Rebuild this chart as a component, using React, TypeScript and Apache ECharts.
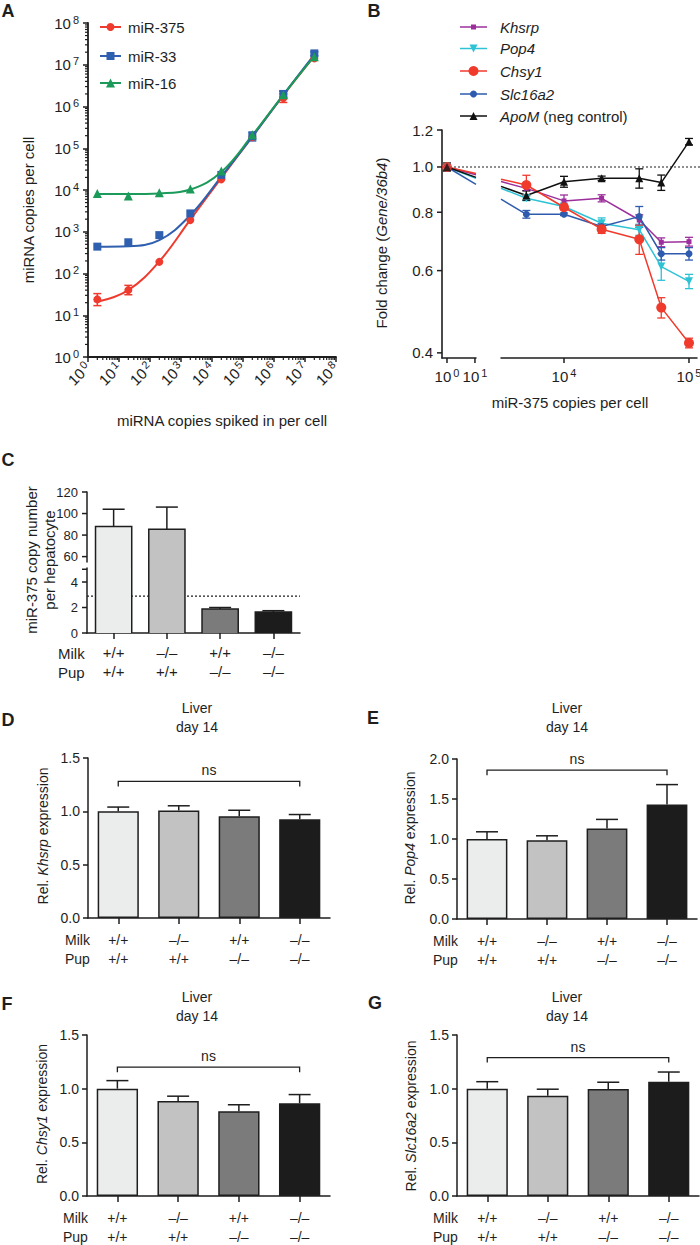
import React, { useEffect, useRef } from 'react';
import * as echarts from 'echarts';

const FONT = '"Liberation Sans", Arial, Helvetica, sans-serif';
const INK = '#1e1e1e';

// ---------------- Panel A ----------------
const A_SPIKED = [2, 20, 200, 2000, 20000, 200000, 2000000, 20000000];
const A_MIR375 = [24, 40, 190, 1900, 18000, 185000, 1600000, 14200000];
const A_MIR33 = [440, 560, 830, 2750, 23000, 195000, 2000000, 18700000];
const A_MIR16 = [8300, 7200, 8600, 10500, 28500, 210000, 1900000, 15500000];
const A_FIT375 = [21, 40, 195, 1950, 19500, 190000, 1850000, 16000000];
const A_FIT33 = [440, 450, 630, 2500, 21000, 190000, 1900000, 17500000];
const A_FIT16 = [8000, 8000, 8300, 10300, 27000, 205000, 1900000, 16000000];
const A_ERR375 = [[2, 17, 33], [20, 31, 52], [2000000, 1250000, 2000000]];
const A_ERR33 = [[200000, 150000, 245000], [2000000, 1650000, 2350000], [20000000, 16500000, 20500000]];
const A_ERR16 = [[2000000, 1550000, 2300000]];
const A_NAMES = ['miR-375', 'miR-33', 'miR-16'];

// ---------------- Panel B ----------------
const B_COPIES = [1, 5000, 10000, 20000, 40000, 60000, 100000];
const B_KHSRP = [1.0, 0.9, 0.846, 0.857, 0.77, 0.69, 0.692];
const B_KHSRP_ERR = [0.015, 0.01, 0.025, 0.015, 0.02, 0.015, 0.015];
const B_POP4 = [1.0, 0.857, 0.823, 0.758, 0.734, 0.612, 0.569];
const B_POP4_ERR = [0.015, 0.01, 0.01, 0.02, 0.02, 0.04, 0.02];
const B_CHSY1 = [1.0, 0.915, 0.82, 0.736, 0.7, 0.5, 0.42];
const B_CHSY1_ERR = [0.015, 0.045, 0.01, 0.015, 0.05, 0.025, 0.01];
const B_SLC16A2 = [1.0, 0.792, 0.792, 0.746, 0.783, 0.652, 0.652];
const B_SLC16A2_ERR = [0.015, 0.015, 0.005, 0.01, 0.04, 0.02, 0.02];
const B_APOM = [1.0, 0.869, 0.93, 0.946, 0.946, 0.926, 1.133];
const B_APOM_ERR = [0.02, 0.02, 0.025, 0.01, 0.045, 0.035, 0.018];
const B_Y_TICKS = [0.4, 0.6, 0.8, 1.0, 1.2];
const B_Y_TICK_LABELS = ['0.4', '0.6', '0.8', '1.0', '1.2'];
const B_X_TICKS_LEFT = [1, 10];
const B_X_TICKS_RIGHT = [10000, 100000];

// ---------------- Panel C ----------------
const GENO_MILK = ['+/+', '–/–', '+/+', '–/–'];
const GENO_PUP = ['+/+', '+/+', '–/–', '–/–'];
const C_COPIES = [88, 85.5, 1.88, 1.65];
const C_SD = [16, 20.5, 0.12, 0.1];
const C_DETECTION = 2.9;
const C_TICKS_UPPER = [60, 80, 100, 120];
const C_TICKS_LOWER = [0, 2, 4, 5];
const C_TICK_LABELS_LOWER = ['0', '2', '4', ''];

// ---------------- Panels D-G ----------------
const D_KHSRP = [1.0, 1.007, 0.955, 0.925];
const D_KHSRP_SD = [0.04, 0.045, 0.055, 0.045];
const E_POP4 = [1.0, 0.985, 1.13, 1.43];
const E_POP4_SD = [0.09, 0.055, 0.115, 0.25];
const F_CHSY1 = [1.0, 0.885, 0.79, 0.865];
const F_CHSY1_SD = [0.075, 0.045, 0.06, 0.08];
const G_SLC16A2 = [1.0, 0.935, 0.997, 1.065];
const G_SLC16A2_SD = [0.065, 0.06, 0.063, 0.09];
const NS_LEVEL = { D: 1.28, E: 1.86, F: 1.2, G: 1.29 };
const BAR_COLORS = ['#EBECEC', '#C2C2C2', '#7B7B7B', '#1C1C1C'];

// ---------------- layout ----------------
const GRID_BOXES = [
  { left: 88, top: 23, width: 248, height: 334 }, // A
  { left: 442, top: 130, width: 34, height: 228 }, // B left
  { left: 501, top: 130, width: 196, height: 228 }, // B right
  { left: 87, top: 492, width: 213, height: 70 }, // C upper
  { left: 87, top: 568, width: 213, height: 65 }, // C lower
  { left: 88, top: 758, width: 242, height: 160 }, // D
  { left: 457, top: 759, width: 240, height: 160 }, // E
  { left: 87, top: 1035, width: 243, height: 161 }, // F
  { left: 457, top: 1035, width: 242, height: 161 }, // G
];
const B_LEFT_RANGE = [0.663, 10.9];
const B_RIGHT_RANGE = [3133, 115900];
const B_Y_RANGE = [0.39, 1.2];
const C_UPPER_RANGE = [55, 120];
const C_LOWER_RANGE = [0, 5.1];

const CATS = GENO_MILK.map((m, i) => m + '\n' + GENO_PUP[i]);

const A_SETS = [
  { name: A_NAMES[0], color: '#EE3B2E', pts: A_MIR375, fit: A_FIT375, err: A_ERR375, symbol: 'circle', size: 8 },
  { name: A_NAMES[1], color: '#2F5FAF', pts: A_MIR33, fit: A_FIT33, err: A_ERR33, symbol: 'rect', size: 8 },
  { name: A_NAMES[2], color: '#1B9A5A', pts: A_MIR16, fit: A_FIT16, err: A_ERR16, symbol: 'triangle', size: 9 },
];

const B_SETS: any = {
  Khsrp: { vals: B_KHSRP, err: B_KHSRP_ERR, color: '#9C2F9C', symbol: 'rect', size: 5, rotate: 0 },
  Pop4: { vals: B_POP4, err: B_POP4_ERR, color: '#2DC3D5', symbol: 'triangle', size: 8, rotate: 180 },
  Chsy1: { vals: B_CHSY1, err: B_CHSY1_ERR, color: '#F03A2C', symbol: 'circle', size: 10, rotate: 0 },
  Slc16a2: { vals: B_SLC16A2, err: B_SLC16A2_ERR, color: '#2E5BAD', symbol: 'circle', size: 7, rotate: 0 },
  ApoM: { vals: B_APOM, err: B_APOM_ERR, color: '#111111', symbol: 'triangle', size: 8, rotate: 0 },
};
const B_DRAW_ORDER = ['Pop4', 'Khsrp', 'Slc16a2', 'Chsy1', 'ApoM'];
const B_LEGEND_ORDER = ['Khsrp', 'Pop4', 'Chsy1', 'Slc16a2', 'ApoM'];

// ---------------- helpers ----------------
function powRich(big: number, small: number) {
  return {
    b: { fontSize: big, fontFamily: FONT, color: INK, fill: INK, lineHeight: big + 3, verticalAlign: 'middle' },
    s: { fontSize: small, fontFamily: FONT, color: INK, fill: INK, lineHeight: small + 3, verticalAlign: 'top', padding: [0, 0, 0, 2] },
  };
}
const pow = (k: number) => `{b|10}{s|${k}}`;
const richIt = (size: number) => ({
  n: { fontSize: size, fontFamily: FONT, fill: INK, color: INK },
  i: { fontSize: size, fontFamily: FONT, fill: INK, color: INK, fontStyle: 'italic' },
});

function T(x: number, y: number, text: string, size: number, o: any = {}) {
  const align = o.align || 'center';
  const va = o.va || 'middle';
  const style: any = {
    text, x: 0, y: 0, fontSize: size, fontFamily: FONT, fontWeight: o.weight || 'normal',
    fontStyle: o.italic ? 'italic' : 'normal', fill: INK, align, verticalAlign: va, textAlign: align, textVerticalAlign: va,
  };
  if (o.lineHeight) style.lineHeight = o.lineHeight;
  if (o.rich) style.rich = o.rich;
  return { type: 'text', x, y, rotation: o.rot || 0, silent: true, z: 10, style };
}

function marker(symbol: string, cx: number, cy: number, size: number, color: string, rotate = 0): any {
  const h = size / 2;
  if (symbol === 'circle') return { type: 'circle', shape: { cx, cy, r: h }, style: { fill: color }, z: 11, silent: true };
  if (symbol === 'rect') return { type: 'rect', shape: { x: cx - h, y: cy - h, width: size, height: size }, style: { fill: color }, z: 11, silent: true };
  const pts = rotate === 180
    ? [[cx, cy + h], [cx + h, cy - h], [cx - h, cy - h]]
    : [[cx, cy - h], [cx + h, cy + h], [cx - h, cy + h]];
  return { type: 'polygon', shape: { points: pts }, style: { fill: color }, z: 11, silent: true };
}

function errSeries(xi: number, yi: number, data: number[][], color: string, cap: number, both: boolean, lw = 1.5, z = 3) {
  return {
    type: 'custom', xAxisIndex: xi, yAxisIndex: yi, silent: true, clip: false, z, data,
    renderItem: (_p: any, api: any) => {
      const x = api.value(0);
      const a = api.coord([x, api.value(1)]);
      const b = api.coord([x, api.value(2)]);
      const st = { stroke: color, lineWidth: lw };
      const ch: any[] = [
        { type: 'line', shape: { x1: a[0], y1: a[1], x2: b[0], y2: b[1] }, style: st },
        { type: 'line', shape: { x1: b[0] - cap, y1: b[1], x2: b[0] + cap, y2: b[1] }, style: st },
      ];
      if (both) ch.push({ type: 'line', shape: { x1: a[0] - cap, y1: a[1], x2: a[0] + cap, y2: a[1] }, style: st });
      return { type: 'group', children: ch };
    },
  };
}

function tickSeries(xi: number, yi: number, dir: string, ticks: number[], labels: string[], anchor: number, cfg: any = {}) {
  const len = cfg.len ?? 5, gap = cfg.gap ?? 4, size = cfg.size ?? 15, lw = cfg.lw ?? 1.5;
  return {
    type: 'custom', xAxisIndex: xi, yAxisIndex: yi, silent: true, clip: false, z: 5,
    data: ticks.map((t) => (dir === 'y' ? [anchor, t] : [t, anchor])),
    renderItem: (params: any, api: any) => {
      const cs = params.coordSys;
      const p = api.coord([api.value(0), api.value(1)]);
      const label = labels[params.dataIndex];
      const ch: any[] = [];
      if (dir === 'y') {
        const x0 = cs.x;
        ch.push({ type: 'line', shape: { x1: x0, y1: p[1], x2: x0 - len, y2: p[1] }, style: { stroke: INK, lineWidth: lw } });
        if (label) {
          const st: any = { text: label, x: x0 - len - gap, y: p[1], fontSize: size, fontFamily: FONT, fill: INK, align: 'right', verticalAlign: 'middle', textAlign: 'right', textVerticalAlign: 'middle' };
          if (cfg.rich) st.rich = cfg.rich;
          ch.push({ type: 'text', style: st });
        }
      } else {
        const y0 = cs.y + cs.height;
        ch.push({ type: 'line', shape: { x1: p[0], y1: y0, x2: p[0], y2: y0 + len }, style: { stroke: INK, lineWidth: lw } });
        if (label) {
          const st: any = { text: label, x: p[0], y: y0 + len + gap, fontSize: size, fontFamily: FONT, fill: INK, align: 'center', verticalAlign: 'top', textAlign: 'center', textVerticalAlign: 'top' };
          if (cfg.rich) st.rich = cfg.rich;
          ch.push({ type: 'text', style: st });
        }
      }
      return { type: 'group', children: ch };
    },
  };
}

function brokenBars(gi: number, values: number[], segMin: number, segMax: number, extendBottom: number) {
  return {
    type: 'custom', xAxisIndex: gi, yAxisIndex: gi, silent: true, clip: false, z: 2,
    data: values.map((v, i) => [i, v]),
    renderItem: (params: any, api: any) => {
      const i = api.value(0), v = api.value(1);
      if (v <= segMin) return null;
      const top = Math.min(v, segMax);
      const pt = api.coord([i, top]);
      const pb = api.coord([i, segMin]);
      const bw = api.size([1, 0])[0] * 0.68;
      const x0 = pt[0] - bw / 2, x1 = pt[0] + bw / 2;
      const yb = pb[1] + extendBottom, yt = pt[1];
      const st = { stroke: INK, lineWidth: 1.5, fill: 'none' };
      const ch: any[] = [{ type: 'rect', shape: { x: x0, y: yt, width: bw, height: yb - yt }, style: { fill: BAR_COLORS[params.dataIndex] } }];
      if (v <= segMax) {
        ch.push({ type: 'polyline', shape: { points: [[x0, yb], [x0, yt], [x1, yt], [x1, yb]] }, style: st });
      } else {
        ch.push({ type: 'line', shape: { x1: x0, y1: yt, x2: x0, y2: yb }, style: st });
        ch.push({ type: 'line', shape: { x1: x1, y1: yt, x2: x1, y2: yb }, style: st });
      }
      return { type: 'group', children: ch };
    },
  };
}

function hlineSeries(xi: number, yi: number, value: number, anchorX: number, toX: number | null, dash: number[]) {
  return {
    type: 'custom', xAxisIndex: xi, yAxisIndex: yi, silent: true, clip: false, z: 1,
    data: [[anchorX, value]],
    renderItem: (params: any, api: any) => {
      const cs = params.coordSys;
      const p = api.coord([api.value(0), api.value(1)]);
      return { type: 'line', shape: { x1: cs.x, y1: p[1], x2: toX ?? cs.x + cs.width, y2: p[1] }, style: { stroke: INK, lineWidth: 1.2, lineDash: dash } };
    },
  };
}

function bracketSeries(gi: number, from: number, to: number, level: number, label: string) {
  return {
    type: 'custom', xAxisIndex: gi, yAxisIndex: gi, silent: true, clip: false, z: 4,
    data: [[from, level, to]],
    renderItem: (_p: any, api: any) => {
      const a = api.coord([api.value(0), api.value(1)]);
      const b = api.coord([api.value(2), api.value(1)]);
      return {
        type: 'group',
        children: [
          { type: 'polyline', shape: { points: [[a[0], a[1] + 5], [a[0], a[1]], [b[0], b[1]], [b[0], b[1] + 5]] }, style: { stroke: INK, lineWidth: 1.3, fill: 'none' } },
          { type: 'text', style: { text: label, x: (a[0] + b[0]) / 2, y: a[1] - 11, fontSize: 14, fontFamily: FONT, fill: INK, align: 'center', verticalAlign: 'middle', textAlign: 'center', textVerticalAlign: 'middle' } },
        ],
      };
    },
  };
}

function buildOption(extra: any[]) {
  const grid = GRID_BOXES.map((b) => ({ ...b, containLabel: false, outerBoundsMode: 'none', show: false }));
  const line = (w = 1.5) => ({ show: true, onZero: false, lineStyle: { color: INK, width: w } });
  const tick = (len = 5, w = 1.5) => ({ show: true, inside: false, length: len, alignWithLabel: true, lineStyle: { color: INK, width: w } });
  const off = { show: false };
  const powLabel = (v: number) => pow(Math.round(Math.log10(v)));
  const richA = powRich(15, 11);
  const catAxis = (gi: number, margin: number, size: number) => ({
    gridIndex: gi, type: 'category', data: CATS, boundaryGap: true,
    axisLine: line(1.5), axisTick: tick(6, 1.5),
    axisLabel: { show: true, interval: 0, color: INK, fontSize: size, fontFamily: FONT, lineHeight: 19, margin },
    splitLine: off,
  });
  const valAxis = (gi: number, max: number) => ({
    gridIndex: gi, type: 'value', min: 0, max, interval: 0.5,
    axisLine: line(1.5), axisTick: tick(5, 1.5),
    axisLabel: { color: INK, fontSize: 14, fontFamily: FONT, margin: 8, formatter: (v: number) => v.toFixed(1) },
    splitLine: off,
  });

  const xAxis: any[] = [
    { gridIndex: 0, type: 'log', logBase: 10, min: 1, max: 1e8, splitNumber: 8, axisLine: line(1.8), axisTick: tick(5, 1.5), axisLabel: { rotate: 45, margin: 8, formatter: powLabel, rich: richA }, splitLine: off, minorTick: off },
    { gridIndex: 1, type: 'log', logBase: 10, min: B_LEFT_RANGE[0], max: B_LEFT_RANGE[1], axisLine: line(1.5), axisTick: off, axisLabel: off, splitLine: off },
    { gridIndex: 2, type: 'log', logBase: 10, min: B_RIGHT_RANGE[0], max: B_RIGHT_RANGE[1], axisLine: line(1.5), axisTick: off, axisLabel: off, splitLine: off },
    { gridIndex: 3, type: 'category', data: CATS, show: false },
    catAxis(4, 10, 15),
    catAxis(5, 12, 14),
    catAxis(6, 12, 14),
    catAxis(7, 12, 14),
    catAxis(8, 12, 14),
  ];
  const yAxis: any[] = [
    { gridIndex: 0, type: 'log', logBase: 10, min: 1, max: 1e8, splitNumber: 8, axisLine: line(1.8), axisTick: tick(5, 1.5), axisLabel: { margin: 9, formatter: powLabel, rich: richA }, splitLine: off, minorTick: off },
    { gridIndex: 1, type: 'log', logBase: 10, min: B_Y_RANGE[0], max: B_Y_RANGE[1], axisLine: line(1.6), axisTick: off, axisLabel: off, splitLine: off },
    { gridIndex: 2, type: 'log', logBase: 10, min: B_Y_RANGE[0], max: B_Y_RANGE[1], show: false, splitLine: off },
    { gridIndex: 3, type: 'value', min: C_UPPER_RANGE[0], max: C_UPPER_RANGE[1], axisLine: line(1.5), axisTick: off, axisLabel: off, splitLine: off },
    { gridIndex: 4, type: 'value', min: C_LOWER_RANGE[0], max: C_LOWER_RANGE[1], axisLine: line(1.5), axisTick: off, axisLabel: off, splitLine: off },
    valAxis(5, 1.5),
    valAxis(6, 2.0),
    valAxis(7, 1.5),
    valAxis(8, 1.5),
  ];

  const series: any[] = [];
  // ---- A ----
  const A_MINOR: number[] = [];
  for (let k = 0; k < 8; k++) for (let m = 2; m <= 9; m++) A_MINOR.push(m * Math.pow(10, k));
  series.push(tickSeries(0, 0, 'x', A_MINOR, [], 1, { len: 3, lw: 1.2 }));
  series.push(tickSeries(0, 0, 'y', A_MINOR, [], 1, { len: 3, lw: 1.2 }));
  A_SETS.forEach((s) => {
    series.push({ type: 'line', xAxisIndex: 0, yAxisIndex: 0, data: A_SPIKED.map((x, i) => [x, s.fit[i]]), smooth: 0.4, showSymbol: false, symbol: 'none', lineStyle: { color: s.color, width: 2 }, z: 2, silent: true });
  });
  A_SETS.forEach((s) => {
    series.push(errSeries(0, 0, s.err, s.color, 4, true, 1.5, 3));
    series.push({ type: 'scatter', xAxisIndex: 0, yAxisIndex: 0, data: A_SPIKED.map((x, i) => [x, s.pts[i]]), symbol: s.symbol, symbolSize: s.size, itemStyle: { color: s.color, opacity: 1 }, z: 4, silent: true });
  });

  // ---- B ----
  const richB = powRich(15, 11);
  series.push(hlineSeries(1, 1, 1.0, 1, 700, [2, 2]));
  series.push(tickSeries(1, 1, 'y', B_Y_TICKS, B_Y_TICK_LABELS, 1, { len: 5, gap: 4, size: 15 }));
  series.push(tickSeries(1, 1, 'x', B_X_TICKS_LEFT, B_X_TICKS_LEFT.map((v) => pow(Math.round(Math.log10(v)))), 1, { len: 5, gap: 4, rich: richB }));
  series.push(tickSeries(2, 2, 'x', B_X_TICKS_RIGHT, B_X_TICKS_RIGHT.map((v) => pow(Math.round(Math.log10(v)))), 1, { len: 5, gap: 4, rich: richB }));
  B_DRAW_ORDER.forEach((name) => {
    const s = B_SETS[name];
    series.push(errSeries(1, 1, [[B_COPIES[0], s.vals[0] - s.err[0], s.vals[0] + s.err[0]]], s.color, 4, true, 1.3, 3));
    series.push(errSeries(2, 2, B_COPIES.slice(1).map((x, i) => [x, s.vals[i + 1] - s.err[i + 1], s.vals[i + 1] + s.err[i + 1]]), s.color, 4, true, 1.3, 3));
    series.push({ type: 'scatter', xAxisIndex: 1, yAxisIndex: 1, data: [[B_COPIES[0], s.vals[0]]], symbol: s.symbol, symbolSize: s.size, symbolRotate: s.rotate, itemStyle: { color: s.color }, z: 4, silent: true });
    series.push({ type: 'line', xAxisIndex: 2, yAxisIndex: 2, data: B_COPIES.slice(1).map((x, i) => [x, s.vals[i + 1]]), symbol: s.symbol, symbolSize: s.size, symbolRotate: s.rotate, showSymbol: true, lineStyle: { color: s.color, width: 1.5 }, itemStyle: { color: s.color }, z: 4, silent: true });
  });

  // ---- C ----
  series.push(brokenBars(3, C_COPIES, C_UPPER_RANGE[0], C_UPPER_RANGE[1], 6));
  series.push(brokenBars(4, C_COPIES, C_LOWER_RANGE[0], C_LOWER_RANGE[1], 0));
  const cErr = C_COPIES.map((v, i) => [i, v, v + C_SD[i]]);
  series.push(errSeries(3, 3, cErr.filter((d) => d[1] > C_LOWER_RANGE[1]), INK, 11, false, 1.5, 3));
  series.push(errSeries(4, 4, cErr.filter((d) => d[1] <= C_LOWER_RANGE[1]), INK, 11, false, 1.5, 3));
  series.push(hlineSeries(4, 4, C_DETECTION, 0, null, [2, 2]));
  series.push(tickSeries(3, 3, 'y', C_TICKS_UPPER, C_TICKS_UPPER.map(String), 0, { len: 5, gap: 4, size: 13 }));
  series.push(tickSeries(4, 4, 'y', C_TICKS_LOWER, C_TICK_LABELS_LOWER, 0, { len: 5, gap: 4, size: 13 }));

  // ---- D-G ----
  const panels = [
    { gi: 5, vals: D_KHSRP, sd: D_KHSRP_SD, ns: NS_LEVEL.D },
    { gi: 6, vals: E_POP4, sd: E_POP4_SD, ns: NS_LEVEL.E },
    { gi: 7, vals: F_CHSY1, sd: F_CHSY1_SD, ns: NS_LEVEL.F },
    { gi: 8, vals: G_SLC16A2, sd: G_SLC16A2_SD, ns: NS_LEVEL.G },
  ];
  panels.forEach((p) => {
    series.push({
      type: 'bar', xAxisIndex: p.gi, yAxisIndex: p.gi, barWidth: '68%', silent: true, z: 2,
      data: p.vals.map((v, i) => ({ value: v, itemStyle: { color: BAR_COLORS[i] } })),
      itemStyle: { borderColor: INK, borderWidth: 1.5 },
    });
    series.push(errSeries(p.gi, p.gi, p.vals.map((v, i) => [i, v, v + p.sd[i]]), INK, 11, false, 1.5, 3));
    series.push(bracketSeries(p.gi, 0, 3, p.ns, 'ns'));
  });

  // ---- graphics ----
  const g: any[] = [];
  const letters: any[] = [['A', 8, 11], ['B', 374, 11], ['C', 8, 460], ['D', 8, 720], ['E', 373, 718], ['F', 7, 1004], ['G', 375, 1003]];
  letters.forEach(([t, x, y]) => g.push(T(x, y, t, 18, { weight: 'bold' })));

  // A legend
  const aLegY = [27, 56, 83];
  A_SETS.forEach((s, k) => {
    const y = aLegY[k];
    g.push({ type: 'line', shape: { x1: 100, y1: y, x2: 121, y2: y }, style: { stroke: s.color, lineWidth: 2 }, z: 10, silent: true });
    g.push(marker(s.symbol, 110.5, y, s.size, s.color));
    g.push(T(128, y, s.name, 15, { align: 'left' }));
  });
  // A axis titles
  g.push(T(28, 210, 'miRNA copies per cell', 15, { rot: Math.PI / 2 }));
  g.push(T(222, 420, 'miRNA copies spiked in per cell', 15));

  // B legend
  const bLegY = [27, 48.5, 71, 94, 116];
  B_LEGEND_ORDER.forEach((name, k) => {
    const s = B_SETS[name];
    const y = bLegY[k];
    g.push({ type: 'line', shape: { x1: 460, y1: y, x2: 487, y2: y }, style: { stroke: s.color, lineWidth: 1.5 }, z: 10, silent: true });
    g.push(marker(s.symbol, 473.5, y, s.size, s.color, s.rotate));
    if (name === 'ApoM') g.push(T(500, y, '{i|ApoM}{n| (neg control)}', 15, { align: 'left', rich: richIt(15) }));
    else g.push(T(500, y, name, 15, { align: 'left', italic: true }));
  });
  g.push(T(381, 243, '{n|Fold change (}{i|Gene/36b4}{n|)}', 15, { rot: Math.PI / 2, rich: richIt(15) }));
  g.push(T(570, 402, 'miR-375 copies per cell', 15));

  // C
  g.push(T(40, 560, 'miR-375 copy number\nper hepatocyte', 15, { rot: Math.PI / 2, lineHeight: 18 }));
  g.push(T(58, 653, 'Milk', 15, { align: 'left' }));
  g.push(T(58, 672, 'Pup', 15, { align: 'left' }));

  // D-G titles and row headers
  const dg: any[] = [
    ['Khsrp', 43, 836, 197, 708, 65, 940],
    ['Pop4', 410, 838, 567, 708, 433, 941],
    ['Chsy1', 42, 1114, 197, 997, 63, 1218],
    ['Slc16a2', 411, 1116, 567, 997, 433, 1218],
  ];
  dg.forEach(([gene, tx, ty, hx, hy, mx, my]) => {
    g.push(T(tx, ty, `{n|Rel. }{i|${gene}}{n| expression}`, 14, { rot: Math.PI / 2, rich: richIt(14) }));
    g.push(T(hx, hy, 'Liver', 14));
    g.push(T(hx, hy + 19, 'day 14', 14));
    g.push(T(mx, my, 'Milk', 14, { align: 'left' }));
    g.push(T(mx, my + 19, 'Pup', 14, { align: 'left' }));
  });

  return {
    animation: false,
    backgroundColor: '#ffffff',
    textStyle: { fontFamily: FONT, color: INK },
    grid,
    xAxis,
    yAxis,
    series,
    graphic: { elements: [...g, ...extra] },
  };
}

function bridges(chart: any) {
  const out: any[] = [];
  const xl = chart.convertToPixel({ xAxisIndex: 1 }, B_LEFT_RANGE[1]);
  const xr = chart.convertToPixel({ xAxisIndex: 2 }, B_RIGHT_RANGE[0]);
  B_DRAW_ORDER.forEach((name) => {
    const s = B_SETS[name];
    const p1 = chart.convertToPixel({ xAxisIndex: 1, yAxisIndex: 1 }, [B_COPIES[0], s.vals[0]]);
    const p2 = chart.convertToPixel({ xAxisIndex: 2, yAxisIndex: 2 }, [B_COPIES[1], s.vals[1]]);
    if (!p1 || !p2 || typeof xl !== 'number' || typeof xr !== 'number') return;
    const yAt = (x: number) => p1[1] + ((p2[1] - p1[1]) * (x - p1[0])) / (p2[0] - p1[0]);
    out.push({ type: 'line', z: 1, silent: true, shape: { x1: p1[0], y1: p1[1], x2: xl, y2: yAt(xl) }, style: { stroke: s.color, lineWidth: 1.5 } });
    out.push({ type: 'line', z: 1, silent: true, shape: { x1: xr, y1: yAt(xr), x2: p2[0], y2: p2[1] }, style: { stroke: s.color, lineWidth: 1.5 } });
  });
  return out;
}

export default function App() {
  const ref = useRef<HTMLDivElement>(null);
  useEffect(() => {
    const el = ref.current;
    if (!el) return;
    const chart = echarts.init(el, null, { renderer: 'svg' });
    chart.setOption(buildOption([]) as any);
    let extra: any[] = [];
    try {
      extra = bridges(chart);
    } catch (e) {
      extra = [];
    }
    chart.setOption(buildOption(extra) as any, true);
    return () => chart.dispose();
  }, []);
  return (
    <div
      ref={ref}
      style={{ position: 'fixed', left: 0, top: 0, width: 700, height: 1245, background: '#fff' }}
    />
  );
}
